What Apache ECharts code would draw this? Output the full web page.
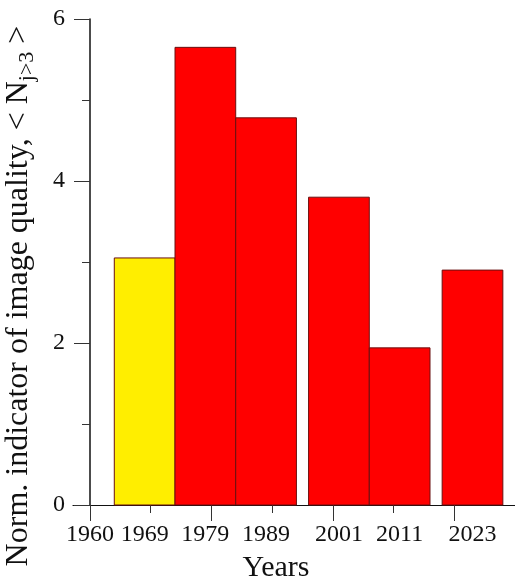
<!DOCTYPE html>
<html>
<head>
<meta charset="utf-8">
<script src="https://cdn.jsdelivr.net/npm/echarts@6/dist/echarts.min.js"></script>
<style>
html,body{margin:0;padding:0;background:#fff;}
#chart{width:515px;height:588px;}
</style>
</head>
<body>
<div id="chart"></div>
<script>
// ---- data ----
var barYears = [1969, 1979, 1989, 2001, 2011, 2023];
var barValues = [3.05, 5.65, 4.78, 3.80, 1.94, 2.90];
var barColors = ['#FFEE00', '#FF0000', '#FF0000', '#FF0000', '#FF0000', '#FF0000'];
var xLabelValues = [1960, 1969, 1979, 1989, 2001, 2011, 2023];
var xMajorTicks = [1960, 1980, 2000, 2020];
var xMinorTicks = [1970, 1990, 2010];
var yTicks = [0, 2, 4, 6];

var binWidth = 10; // years per bar
var FONT = '"Liberation Serif", "Times New Roman", serif';

var chart = echarts.init(document.getElementById('chart'), null, {renderer: 'canvas'});

var barData = barYears.map(function (y, i) { return [y, barValues[i], i]; });

var option = {
  animation: false,
  backgroundColor: '#fff',
  grid: {left: 73, right: 0, top: 19, bottom: 83, containLabel: false, outerBoundsMode: 'none'},
  xAxis: [{
    type: 'value',
    min: 1957.2,
    max: 2030,
    position: 'bottom',
    splitLine: {show: false},
    axisLine: {show: true, onZero: false, lineStyle: {color: '#111', width: 1.2}},
    axisTick: {show: true, customValues: xMajorTicks, length: 16, lineStyle: {color: '#333', width: 1}},
    axisLabel: {show: true, customValues: xLabelValues, margin: 18, color: '#111',
      fontFamily: FONT, fontSize: 24, formatter: function (v) { return String(v); }},
    name: 'Years',
    nameLocation: 'middle',
    nameGap: 48,
    nameTextStyle: {fontFamily: FONT, fontSize: 30, color: '#111', padding: [0, 36, 0, 0]}
  }, {
    type: 'value',
    min: 1957.2,
    max: 2030,
    position: 'bottom',
    splitLine: {show: false},
    axisLine: {show: false},
    axisTick: {show: true, customValues: xMinorTicks, length: 8, lineStyle: {color: '#333', width: 1}},
    axisLabel: {show: false}
  }],
  yAxis: {
    type: 'value',
    min: 0,
    max: 6,
    interval: 2,
    position: 'left',
    offset: -17,
    splitLine: {show: false},
    axisLine: {show: true, lineStyle: {color: '#111', width: 1.5}},
    axisTick: {show: true, length: 16, lineStyle: {color: '#333', width: 1}},
    minorTick: {show: true, splitNumber: 2, length: 8, lineStyle: {color: '#333', width: 1}},
    minorSplitLine: {show: false},
    axisLabel: {margin: 25, color: '#111', fontFamily: FONT, fontSize: 24},
    name: '{t|Norm. indicator of image quality, < N}{s|j>3}{t| >}',
    nameLocation: 'middle',
    nameRotate: 90,
    nameGap: 52,
    nameTextStyle: {
      fontFamily: FONT, fontSize: 32, color: '#111', padding: [0, 68, 0, 0],
      rich: {
        t: {fontFamily: FONT, fontSize: 32, color: '#111'},
        s: {fontFamily: FONT, fontSize: 22, color: '#111', padding: [16, 0, 0, 0]}
      }
    }
  },
  series: [{
    type: 'custom',
    xAxisIndex: 0,
    yAxisIndex: 0,
    data: barData,
    encode: {x: 0, y: 1},
    renderItem: function (params, api) {
      var c = api.value(0);
      var v = api.value(1);
      var idx = api.value(2);
      var p0 = api.coord([c - binWidth / 2, v]);
      var p1 = api.coord([c + binWidth / 2, 0]);
      return {
        type: 'rect',
        shape: {x: p0[0], y: p0[1], width: p1[0] - p0[0], height: p1[1] - p0[1]},
        style: {fill: barColors[idx], stroke: '#6a1010', lineWidth: 1}
      };
    }
  }]
};
chart.setOption(option);
</script>
</body>
</html>
